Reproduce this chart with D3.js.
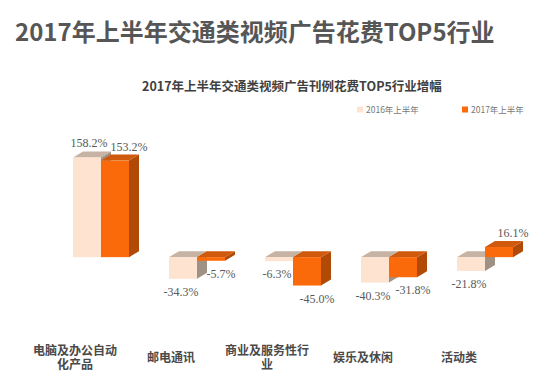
<!DOCTYPE html>
<meta charset="utf-8">
<style>
body { margin: 0; background: #fff; }
svg { display: block; font-family: "Noto Sans CJK SC", "Noto Sans", sans-serif; }
.val { font-family: "Liberation Serif", serif; font-size: 12px; fill: #595959; }
</style>
<svg width="546" height="384"></svg>
<script src="https://cdn.jsdelivr.net/npm/d3@7/dist/d3.min.js"></script>
<script>
// data
var categories = ["电脑及办公自动化产品", "邮电通讯", "商业及服务性行业", "娱乐及休闲", "活动类"];
var seriesNames = ["2016年上半年", "2017年上半年"];
var values2016 = [158.2, -34.3, -6.3, -40.3, -21.8];
var values2017 = [153.2, -5.7, -45.0, -31.8, 16.1];

var svg = d3.select("svg");

// colors per series: front, top, side
var colors = [
  {front: "#fde3d0", top: "#c7b3a3", side: "#a09185"},
  {front: "#fb6a0a", top: "#cf5a0e", side: "#b04a06"}
];

// scales
var x = d3.scaleBand().domain(categories).range([27, 507]);
var y = d3.scaleLinear().domain([-60, 170]).range([295, 150]);
var barW = 28, dx = 10, dy = -6;
// label shift per series (3D perspective)
var labelShift = [-2, 10];

// title
svg.append("text")
    .attr("x", 15)
    .attr("y", 41)
    .style("font-size", "24px")
    .style("font-weight", "bold")
    .attr("fill", "#565656")
    .text("2017年上半年交通类视频广告花费TOP5行业");

svg.append("text")
    .attr("x", 292)
    .attr("y", 91)
    .attr("text-anchor", "middle")
    .style("font-size", "12.5px")
    .style("font-weight", "bold")
    .attr("fill", "#404040")
    .text("2017年上半年交通类视频广告刊例花费TOP5行业增幅");

// legend
var legend = svg.append("g").selectAll("g")
    .data(seriesNames)
    .enter().append("g")
    .attr("transform", function(d, i) { return "translate(" + (357 + i * 105) + ",110)"; });

legend.append("rect")
    .attr("x", 0).attr("y", -3.5)
    .attr("width", 6).attr("height", 6)
    .attr("fill", function(d, i) { return colors[i].front; });

legend.append("text")
    .attr("x", 9)
    .attr("dy", "0.35em")
    .style("font-size", "8.5px")
    .attr("fill", "#777")
    .text(function(d) { return d; });

// bars
var bars = [];
categories.forEach(function(c, ci) {
  [values2016, values2017].forEach(function(vals, si) {
    bars.push({cat: c, s: si, v: vals[ci]});
  });
});

function barGeom(d) {
  var x0 = x(d.cat) + x.bandwidth() / 2 - 2 + d.s * barW;
  var yt = y(Math.max(d.v, 0)), yb = y(Math.min(d.v, 0));
  return {x0: x0, x1: x0 + barW, yt: yt, yb: yb};
}

var g = svg.append("g");
var bar = g.selectAll(".bar")
    .data(bars)
    .enter().append("g")
    .attr("class", "bar");

bar.append("path")
    .attr("fill", function(d) { return colors[d.s].side; })
    .attr("d", function(d) {
      var b = barGeom(d);
      return "M" + b.x1 + "," + b.yt + "L" + (b.x1 + dx) + "," + (b.yt + dy) +
        "L" + (b.x1 + dx) + "," + (b.yb + dy) + "L" + b.x1 + "," + b.yb + "Z";
    });

bar.append("path")
    .attr("fill", function(d) { return colors[d.s].top; })
    .attr("d", function(d) {
      var b = barGeom(d);
      return "M" + b.x0 + "," + b.yt + "L" + b.x1 + "," + b.yt +
        "L" + (b.x1 + dx) + "," + (b.yt + dy) + "L" + (b.x0 + dx) + "," + (b.yt + dy) + "Z";
    });

bar.append("rect")
    .attr("fill", function(d) { return colors[d.s].front; })
    .attr("x", function(d) { return barGeom(d).x0; })
    .attr("y", function(d) { return barGeom(d).yt; })
    .attr("width", barW)
    .attr("height", function(d) { var b = barGeom(d); return Math.max(b.yb - b.yt, 0.5); });

// value labels
g.selectAll(".val")
    .data(bars)
    .enter().append("text")
    .attr("class", "val")
    .attr("text-anchor", "middle")
    .attr("x", function(d) { var b = barGeom(d); return (b.x0 + b.x1) / 2 + labelShift[d.s] + (d.v > 0 ? 4 : 0); })
    .attr("y", function(d) { var b = barGeom(d); return d.v > 0 ? b.yt + dy - 4 : b.yb + 17; })
    .text(function(d) { return d.v.toFixed(1) + "%"; });

// category labels, wrapped at 7 chars, one text per line
var catLines = [];
categories.forEach(function(c) {
  var lines = [];
  for (var i = 0; i < c.length; i += 7) lines.push(c.slice(i, i + 7));
  lines.forEach(function(l, i) {
    catLines.push({cat: c, text: l, dy: (i - (lines.length - 1) / 2) * 14});
  });
});

svg.append("g").selectAll("text")
    .data(catLines)
    .enter().append("text")
    .attr("text-anchor", "middle")
    .style("font-size", "12px")
    .style("font-weight", "bold")
    .attr("fill", "#4a4a4a")
    .attr("x", function(d) { return x(d.cat) + x.bandwidth() / 2; })
    .attr("y", function(d) { return 358 + d.dy; })
    .attr("dy", "0.35em")
    .text(function(d) { return d.text; });
</script>
